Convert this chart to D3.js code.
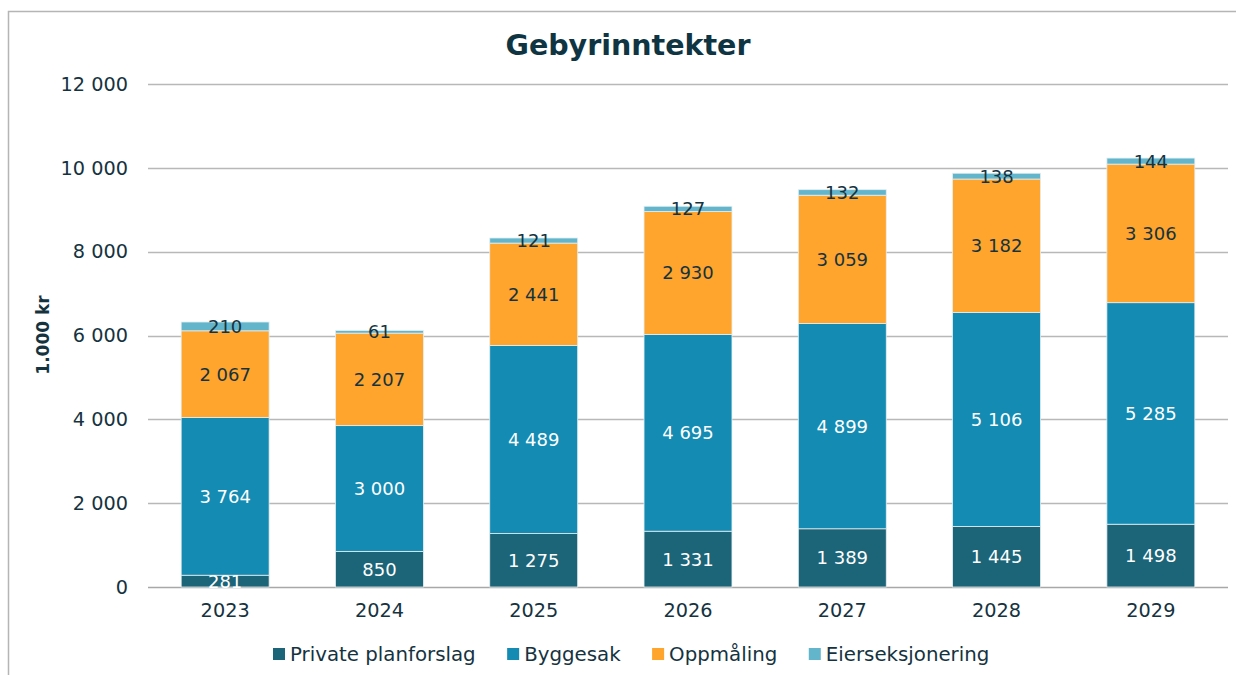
<!DOCTYPE html>
<html>
<head>
<meta charset="utf-8">
<script src="https://cdn.jsdelivr.net/npm/d3@7"></script>
<style>
  html, body { margin: 0; padding: 0; background: #fff; }
  svg text { font-family: "DejaVu Sans", Verdana, sans-serif; }
</style>
</head>
<body>
<svg id="chart" width="1236" height="675"></svg>
<script>
const years = ["2023", "2024", "2025", "2026", "2027", "2028", "2029"];
const seriesNames = ["Private planforslag", "Byggesak", "Oppmåling", "Eierseksjonering"];
const privatePlanforslag = [281, 850, 1275, 1331, 1389, 1445, 1498];
const byggesak = [3764, 3000, 4489, 4695, 4899, 5106, 5285];
const oppmaling = [2067, 2207, 2441, 2930, 3059, 3182, 3306];
const eierseksjonering = [210, 61, 121, 127, 132, 138, 144];
const yTicks = [0, 2000, 4000, 6000, 8000, 10000, 12000];

const colors = ["#1c6478", "#138bb3", "#ffa42c", "#62b5cb"];
const labelColors = ["#ffffff", "#ffffff", "#15333f", "#15333f"];
const textColor = "#15333f";

const seriesValues = [privatePlanforslag, byggesak, oppmaling, eierseksjonering];
const rows = years.map((y, i) => {
  const r = { year: y };
  seriesNames.forEach((s, j) => r[s] = seriesValues[j][i]);
  return r;
});
const stacked = d3.stack().keys(seriesNames)(rows);

const svg = d3.select("#chart");
const fmt = v => d3.format(",")(v).replace(/,/g, " ");

// frame
svg.append("path").attr("d", "M8.5,675 V11.5 H1236")
  .attr("fill", "none").attr("stroke", "#b5b5b5").attr("stroke-width", 1.5);

const x = d3.scaleBand().domain(years).range([148, 1228]).paddingInner(0.43).paddingOuter(0.215);
const y = d3.scaleLinear().domain([0, 12000]).range([587, 84]);

// gridlines
svg.append("g").selectAll("line").data(yTicks).join("line")
  .attr("x1", 148).attr("x2", 1228)
  .attr("y1", d => Math.round(y(d)) + 0.5).attr("y2", d => Math.round(y(d)) + 0.5)
  .attr("stroke", d => d === 0 ? "#a8a8a8" : "#b8b8b8").attr("stroke-width", 1.3);

// y axis labels
const yAxis = d3.axisLeft(y).tickValues(yTicks).tickFormat(fmt).tickSize(0).tickPadding(0);
const yg = svg.append("g").attr("transform", "translate(128,0)").call(yAxis);
yg.select(".domain").remove();
yg.selectAll("text").attr("font-size", 19.3).attr("fill", textColor)
  .attr("font-family", "DejaVu Sans, sans-serif");

// x axis labels
const xAxis = d3.axisBottom(x).tickSize(0).tickPadding(0);
const xg = svg.append("g").attr("transform", "translate(0,603)").call(xAxis);
xg.select(".domain").remove();
xg.selectAll("text").attr("font-size", 19.3).attr("fill", textColor)
  .attr("font-family", "DejaVu Sans, sans-serif");

// bars
const layers = svg.append("g").selectAll("g").data(stacked).join("g")
  .attr("fill", (d, i) => colors[i]);
layers.selectAll("rect").data(d => d).join("rect")
  .attr("x", d => x(d.data.year))
  .attr("width", x.bandwidth())
  .attr("y", d => y(d[1]))
  .attr("height", d => y(d[0]) - y(d[1]))
  .attr("stroke", "#e6eef1").attr("stroke-width", 0.8);

// labels
stacked.forEach((layer, i) => {
  svg.append("g").selectAll("text").data(layer).join("text")
    .attr("x", d => x(d.data.year) + x.bandwidth() / 2)
    .attr("y", d => (y(d[0]) + y(d[1])) / 2)
    .attr("dy", "0.36em")
    .attr("text-anchor", "middle")
    .attr("font-size", 18)
    .attr("fill", labelColors[i])
    .text(d => fmt(d[1] - d[0]));
});

// title
svg.append("text").attr("x", 628).attr("y", 55).attr("text-anchor", "middle")
  .attr("font-size", 28.5).attr("font-weight", "bold").attr("fill", "#0f3543")
  .text("Gebyrinntekter");

// y title
svg.append("text").attr("transform", "translate(49,335) rotate(-90)")
  .attr("text-anchor", "middle").attr("font-size", 17).attr("font-weight", "bold")
  .attr("fill", textColor).text("1.000 kr");

// legend
const lg = svg.append("g").attr("transform", "translate(0,654)");
let cx = 273;
seriesNames.forEach((s, i) => {
  lg.append("rect").attr("x", cx).attr("y", -6).attr("width", 12).attr("height", 12).attr("fill", colors[i]);
  const t = lg.append("text").attr("x", cx + 17).attr("y", 0).attr("dy", "0.36em")
    .attr("font-size", 19.8).attr("fill", textColor).text(s);
  cx += 17 + t.node().getComputedTextLength() + 31.5;
});
</script>
</body>
</html>
